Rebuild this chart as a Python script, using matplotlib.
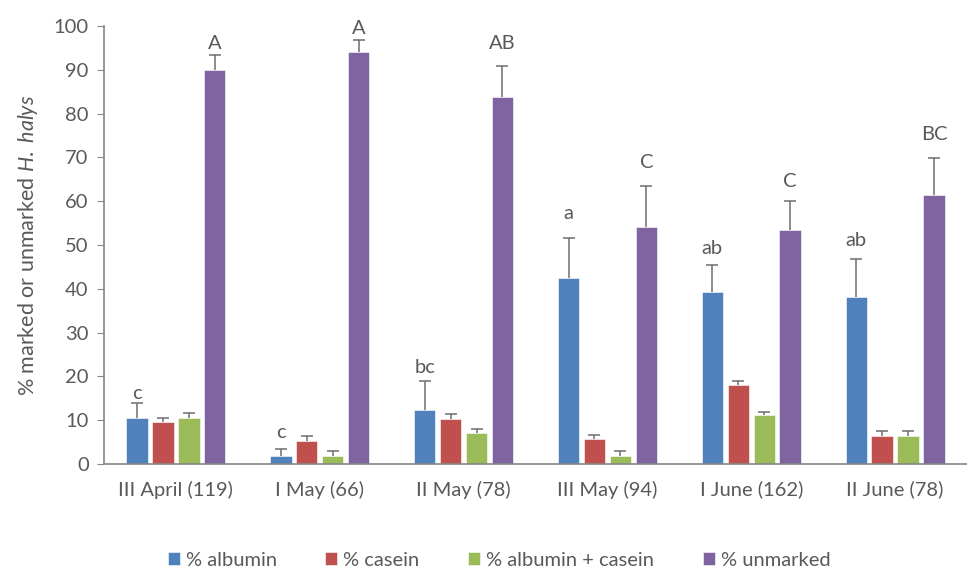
import numpy as np
import matplotlib
matplotlib.use("Agg")
import matplotlib.pyplot as plt

plt.rcParams['font.family'] = ['Lato', 'DejaVu Sans']
plt.rcParams['mathtext.fontset'] = 'custom'
plt.rcParams['mathtext.it'] = 'Lato:italic'
plt.rcParams['mathtext.rm'] = 'Lato'

categories = ["III April (119)", "I May (66)", "II May (78)", "III May (94)", "I June (162)", "II June (78)"]
series_names = ["% albumin", "% casein", "% albumin + casein", "% unmarked"]

albumin = [10.6, 1.8, 12.3, 42.5, 39.3, 38.1]
casein = [9.7, 5.3, 10.3, 5.6, 18.0, 6.5]
alb_cas = [10.6, 1.8, 7.1, 1.8, 11.2, 6.5]
unmarked = [89.9, 94.0, 83.8, 54.0, 53.4, 61.5]

albumin_err = [3.4, 1.6, 6.7, 9.0, 6.1, 8.7]
casein_err = [0.8, 1.1, 1.1, 1.1, 1.0, 1.1]
alb_cas_err = [1.0, 1.1, 1.0, 1.1, 0.7, 1.1]
unmarked_err = [3.4, 2.8, 7.1, 9.5, 6.6, 8.4]

# significance letters and the height (in % units) where each one sits
albumin_letters = ["c", "c", "bc", "a", "ab", "ab"]
albumin_letter_y = [16.2, 7.3, 22.1, 57.3, 49.1, 51.1]
unmarked_letters = ["A", "A", "AB", "C", "C", "BC"]
unmarked_letter_y = [96.1, 99.5, 96.1, 68.9, 64.4, 75.3]

colors = ["#4F81BD", "#C0504D", "#9BBB59", "#8064A2"]
text_gray = "#595959"
axis_gray = "#868686"
fs = 14.5

fig = plt.figure(figsize=(9.67, 5.70), dpi=100)
ax = fig.add_axes([104/967, 1 - 464/570, (967 - 104)/967, (464 - 26)/570])

x = np.arange(len(categories))
offsets = [-0.27, -0.09, 0.09, 0.27]
width = 0.148
values = [albumin, casein, alb_cas, unmarked]
errors = [albumin_err, casein_err, alb_cas_err, unmarked_err]

handles = []
for i in range(4):
    b = ax.bar(x + offsets[i], values[i], width, color=colors[i],
               edgecolor="white", linewidth=0.4, label=series_names[i], zorder=3)
    handles.append(b)
    # upper-only error bars; the line starts behind the bar top
    _, caps, _ = ax.errorbar(x + offsets[i], values[i],
                             yerr=[np.zeros(len(categories)), errors[i]],
                             fmt="none", ecolor="#6d6d6d", elinewidth=1.1,
                             capsize=4.5, capthick=1.1, zorder=2)
    caps[0].set_visible(False)

for xi, ly, lab in zip(x, albumin_letter_y, albumin_letters):
    ax.text(xi + offsets[0], ly, lab, ha="center", va="center",
            fontsize=fs, color=text_gray, clip_on=False)
for xi, ly, lab in zip(x, unmarked_letter_y, unmarked_letters):
    ax.text(xi + offsets[3], ly, lab, ha="center", va="center",
            fontsize=fs, color=text_gray, clip_on=False)

ax.set_xlim(-0.5, len(categories) - 0.5)
ax.set_ylim(0, 100)
ax.set_yticks(np.arange(0, 101, 10))
ax.set_xticks(x)
ax.set_xticklabels(categories)
ax.tick_params(axis="y", direction="out", length=5, color=axis_gray,
               labelsize=fs, labelcolor=text_gray, pad=6)
ax.tick_params(axis="x", length=0, labelsize=fs, labelcolor=text_gray, pad=12)

for s in ["top", "right"]:
    ax.spines[s].set_visible(False)
for s in ["left", "bottom"]:
    ax.spines[s].set_color(axis_gray)
    ax.spines[s].set_linewidth(1.2)
    ax.spines[s].set_zorder(4)

ax.set_ylabel(r"% marked or unmarked $\mathit{H.\ halys}$", fontsize=15.5,
              color=text_gray, labelpad=10)

fig.legend(handles=handles, labels=series_names, loc="center",
           bbox_to_anchor=(499/967, 1 - 560/570), ncol=4, frameon=False,
           fontsize=fs, labelcolor=text_gray, handlelength=0.6, handleheight=0.6,
           handletextpad=0.3, columnspacing=2.4)

fig.savefig("out.png", dpi=100)
